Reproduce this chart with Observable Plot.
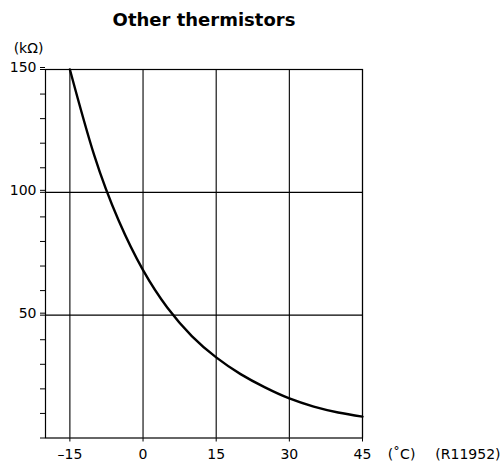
<!DOCTYPE html>
<html>
<head>
<meta charset="utf-8">
<script src="https://cdn.jsdelivr.net/npm/d3@7"></script>
<script src="https://cdn.jsdelivr.net/npm/@observablehq/plot@0.6"></script>
<style>
  html, body { margin: 0; padding: 0; background: #fff; }
  #chart svg { display: block; }
</style>
</head>
<body>
<div id="chart"></div>
<script>
// Data
const temperatures = [-15, -10, -5, 0, 5, 10, 15, 20, 25, 30, 35, 40, 45];
const resistances  = [150, 115, 88.5, 68.3, 53, 41.5, 32.8, 26, 20.6, 16.1, 12.8, 10.4, 8.7];

const xTicks = [-15, 0, 15, 30, 45];
const xTickLabels = ["–15", "0", "15", "30", "45"];
const yTicks = [50, 100, 150];
const yTickLabels = ["50", "100", "150"];
const yMinorTicks = [0, 10, 20, 30, 40, 50, 60, 70, 80, 90, 100, 110, 120, 130, 140, 150];

const titleText = "Other thermistors";
const yUnit = "(kΩ)";
const xUnit = "(˚C)";
const refCode = "(R11952)";

const rows = temperatures.map((t, i) => ({t, r: resistances[i]}));

const chart = Plot.plot({
  width: 501,
  height: 464,
  marginLeft: 45,
  marginRight: 139,
  marginTop: 69,
  marginBottom: 26.5,
  style: {fontFamily: "DejaVu Sans", fontSize: "14px", color: "black", background: "white"},
  x: {domain: [-20, 45], label: null},
  y: {domain: [0, 150], label: null},
  marks: [
    Plot.gridX(xTicks, {stroke: "black", strokeOpacity: 1, strokeWidth: 1.1}),
    Plot.gridY([50, 100], {stroke: "black", strokeOpacity: 1, strokeWidth: 1.1}),
    Plot.frame({stroke: "black", strokeWidth: 1.2}),
    Plot.axisX(xTicks, {
      anchor: "bottom", tickSize: 4, tickPadding: 7, fontSize: 14,
      tickFormat: d => xTickLabels[xTicks.indexOf(d)], label: null
    }),
    Plot.axisY(yMinorTicks, {
      anchor: "left", tickSize: 5, tickFormat: () => "", label: null
    }),
    Plot.axisY(yTicks, {
      anchor: "left", tickSize: 5, tickPadding: 4, fontSize: 14, dy: -2,
      tickFormat: d => yTickLabels[yTicks.indexOf(d)], label: null
    }),
    Plot.line(rows, {x: "t", y: "r", curve: "natural", stroke: "black", strokeWidth: 2.4}),
    Plot.text([titleText], {
      frameAnchor: "top", dy: -43.5, text: d => d, fontSize: 18, fontWeight: "bold",
      lineAnchor: "bottom", fill: "black"
    }),
    Plot.text([yUnit], {
      frameAnchor: "top-left", dx: -17, dy: -16.5, text: d => d, fontSize: 14,
      textAnchor: "middle", lineAnchor: "bottom", fill: "black"
    }),
    Plot.text([xUnit], {
      frameAnchor: "bottom-right", dx: 39, dy: 20.5, text: d => d, fontSize: 14,
      textAnchor: "middle", lineAnchor: "bottom", fill: "black"
    }),
    Plot.text([refCode], {
      frameAnchor: "bottom-right", dx: 138, dy: 20.5, text: d => d, fontSize: 14,
      textAnchor: "end", lineAnchor: "bottom", fill: "black"
    })
  ]
});

document.getElementById("chart").appendChild(chart);
</script>
</body>
</html>
